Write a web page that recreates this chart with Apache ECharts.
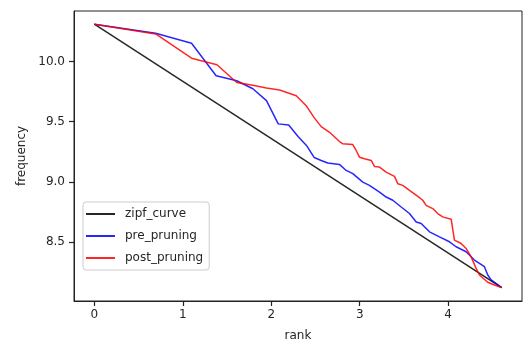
<!DOCTYPE html>
<html>
<head>
<meta charset="utf-8">
<script src="https://cdn.jsdelivr.net/npm/echarts@6/dist/echarts.min.js"></script>
<style>
html,body{margin:0;padding:0;background:#fff;}
#c{width:526px;height:347px;}
</style>
</head>
<body>
<div id="c"></div>
<script>
// x = ln(rank), y = log frequency
const zipfX = [0, 4.605];
const zipfY = [10.31, 8.121];

const preX = [0, 0.693, 1.099, 1.377, 1.610, 1.792, 1.946, 2.079, 2.197, 2.303, 2.398, 2.485, 2.565, 2.639, 2.771, 2.847, 2.922, 3.035, 3.110, 3.224, 3.299, 3.374, 3.469, 3.563, 3.639, 3.695, 3.789, 3.902, 4.015, 4.090, 4.203, 4.297, 4.354, 4.410, 4.448, 4.486, 4.605];
const preY = [10.31, 10.235, 10.152, 9.882, 9.840, 9.774, 9.675, 9.482, 9.472, 9.377, 9.303, 9.203, 9.178, 9.157, 9.145, 9.095, 9.068, 8.998, 8.971, 8.915, 8.874, 8.847, 8.791, 8.737, 8.667, 8.654, 8.585, 8.543, 8.502, 8.461, 8.419, 8.350, 8.323, 8.295, 8.226, 8.185, 8.121];

const postX = [0, 0.693, 1.099, 1.386, 1.610, 1.792, 1.946, 2.094, 2.283, 2.395, 2.485, 2.565, 2.659, 2.772, 2.809, 2.922, 2.960, 2.998, 3.054, 3.130, 3.167, 3.224, 3.299, 3.393, 3.431, 3.487, 3.563, 3.657, 3.713, 3.751, 3.826, 3.882, 3.939, 4.034, 4.071, 4.147, 4.203, 4.260, 4.316, 4.354, 4.447, 4.523, 4.605];
const postY = [10.31, 10.229, 10.028, 9.973, 9.826, 9.803, 9.780, 9.763, 9.716, 9.633, 9.534, 9.459, 9.412, 9.335, 9.316, 9.310, 9.261, 9.205, 9.192, 9.178, 9.128, 9.123, 9.081, 9.046, 8.985, 8.971, 8.930, 8.880, 8.847, 8.805, 8.778, 8.737, 8.709, 8.690, 8.516, 8.488, 8.447, 8.377, 8.281, 8.226, 8.166, 8.143, 8.121];

const xTicks = [0, 1, 2, 3, 4];
const yTicks = [8.5, 9.0, 9.5, 10.0];
const seriesNames = ['zipf_curve', 'pre_pruning', 'post_pruning'];

const zip = (xs, ys) => xs.map((x, i) => [x, ys[i]]);
const font = 'DejaVu Sans';
const txt = '#262626';
const axisCol = '#222';

const chart = echarts.init(document.getElementById('c'), null, {renderer: 'canvas'});
chart.setOption({
  animation: false,
  backgroundColor: '#fff',
  grid: {left: 74, right: 4, top: 11, bottom: 45, show: true, borderColor: axisCol, borderWidth: 1, backgroundColor: 'transparent'},
  xAxis: {
    type: 'value', min: -0.23, max: 4.835,
    name: 'rank', nameLocation: 'middle', nameGap: 29,
    nameTextStyle: {fontFamily: font, fontSize: 12, color: txt},
    axisLine: {show: true, onZero: false, lineStyle: {color: axisCol, width: 1}},
    splitLine: {show: false},
    axisTick: {show: true, inside: false, length: 5, lineStyle: {color: axisCol, width: 1.2}, customValues: xTicks},
    axisLabel: {customValues: xTicks, margin: 8, fontFamily: font, fontSize: 12, color: txt,
      formatter: v => String(v)}
  },
  yAxis: {
    type: 'value', min: 8.01, max: 10.42,
    name: 'frequency', nameLocation: 'middle', nameGap: 46, nameRotate: 90,
    nameTextStyle: {fontFamily: font, fontSize: 12, color: txt},
    axisLine: {show: true, onZero: false, lineStyle: {color: axisCol, width: 1}},
    splitLine: {show: false},
    axisTick: {show: true, inside: false, length: 5, lineStyle: {color: axisCol, width: 1.2}, customValues: yTicks},
    axisLabel: {customValues: yTicks, margin: 9, fontFamily: font, fontSize: 12, color: txt,
      formatter: v => v.toFixed(1)}
  },
  legend: {
    orient: 'vertical', left: 83, top: 202,
    data: seriesNames,
    icon: 'rect', itemWidth: 29, itemHeight: 2, itemGap: 8,
    padding: [5, 6, 5, 3],
    backgroundColor: 'rgba(255,255,255,0.8)', borderColor: '#cccccc', borderWidth: 1, borderRadius: 3,
    textStyle: {fontFamily: font, fontSize: 12, color: txt, lineHeight: 14, padding: [0, 0, 0, 5]}
  },
  series: [
    {name: seriesNames[0], type: 'line', data: zip(zipfX, zipfY), symbol: 'none', lineStyle: {width: 1.5, color: 'rgba(0,0,0,0.85)'}, itemStyle: {color: 'rgba(0,0,0,0.85)'}},
    {name: seriesNames[1], type: 'line', data: zip(preX, preY), symbol: 'none', lineStyle: {width: 1.5, color: 'rgba(0,0,255,0.85)'}, itemStyle: {color: 'rgba(0,0,255,0.85)'}},
    {name: seriesNames[2], type: 'line', data: zip(postX, postY), symbol: 'none', lineStyle: {width: 1.5, color: 'rgba(255,0,0,0.85)'}, itemStyle: {color: 'rgba(255,0,0,0.85)'}}
  ]
});
</script>
</body>
</html>
